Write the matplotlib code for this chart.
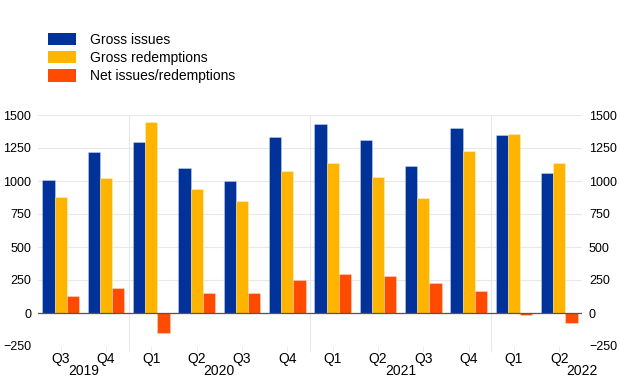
import matplotlib
matplotlib.use("Agg")
import matplotlib.pyplot as plt
from matplotlib.patches import Patch
import numpy as np

quarters = ["Q3", "Q4", "Q1", "Q2", "Q3", "Q4", "Q1", "Q2", "Q3", "Q4", "Q1", "Q2"]
years = ["2019", "2020", "2021", "2022"]
year_pos = [0.5, 3.5, 7.5, 11.5]
year_bounds = [1.5, 5.5, 9.5]

gross_issues = [1010, 1220, 1295, 1095, 1003, 1335, 1431, 1310, 1110, 1404, 1348, 1062]
gross_redemptions = [877, 1021, 1444, 942, 846, 1079, 1138, 1029, 874, 1229, 1358, 1140]
net_issues = [129, 193, -152, 152, 155, 253, 294, 279, 231, 170, -15, -76]

series_names = ["Gross issues", "Gross redemptions", "Net issues/redemptions"]
colors = ["#003299", "#FFB400", "#FF4B00"]

plt.rcParams['font.family'] = ['Liberation Sans', 'DejaVu Sans']

fig = plt.figure(figsize=(6.2, 3.87), dpi=100)
ax = fig.add_axes([38/620, 1-346/387, (582-38)/620, (346-115)/387])

x = np.arange(len(quarters))
w = 0.27
for i, (vals, c) in enumerate(zip([gross_issues, gross_redemptions, net_issues], colors)):
    ax.bar(x + (i-1)*w, vals, width=w, color=c, edgecolor=(1, 1, 1, 0.3),
           linewidth=0.7, zorder=3)

ax.set_xlim(-0.5, 11.5)
ax.set_ylim(-250, 1500)
ax.set_yticks([-250, 0, 250, 500, 750, 1000, 1250, 1500])
ax.yaxis.grid(True, color="#e8e8e8", linewidth=0.8, zorder=0)
ax.axhline(0, color="#555555", linewidth=0.9, zorder=4)
for b in year_bounds:
    ax.axvline(b, color="#e8e8e8", linewidth=0.8, zorder=0)

for s in ax.spines.values():
    s.set_visible(False)

ax.set_xticks(x)
ax.set_xticklabels(quarters, fontsize=10)
ax.set_xticks(year_bounds, minor=True)
ax.tick_params(axis='x', which='major', length=4, color="#eeeeee", width=0.8, pad=0.3)
ax.tick_params(axis='x', which='minor', length=4.5, color="#e8e8e8", width=0.8)
ax.tick_params(axis='y', which='both', length=0, labelsize=9, labelright=True, pad=5)

trans = ax.get_xaxis_transform()
for yl, p in zip(years, year_pos):
    ax.text(p, -0.108, yl, transform=trans, ha='center', va='center', fontsize=10)

handles = [Patch(facecolor=c, edgecolor='none') for c in colors]
fig.legend(handles, series_names, loc='upper left',
           bbox_to_anchor=(48/620, 1-32.5/387), frameon=False, fontsize=10,
           handlelength=2.0, handleheight=1.0, handletextpad=1.0,
           labelspacing=0.32, borderpad=0, borderaxespad=0)

fig.savefig("out.png", dpi=100)
